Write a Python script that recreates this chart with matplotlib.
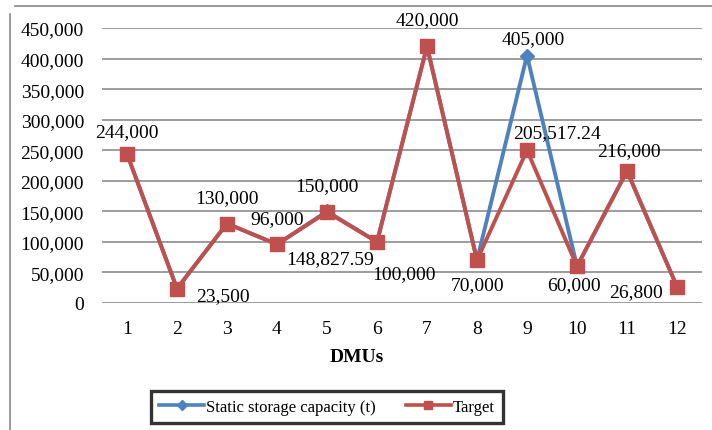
import matplotlib.pyplot as plt
from matplotlib.lines import Line2D
from matplotlib.ticker import FuncFormatter

# data
dmus = list(range(1, 13))
static_capacity = [244000, 23500, 130000, 96000, 150000, 100000,
                   420000, 70000, 405000, 60000, 216000, 26800]
target = [244000, 23500, 130000, 96000, 148827.59, 100000,
          420000, 70000, 250000, 60000, 216000, 26800]

# labels as printed on the chart (x, y, text, pixel offset)
static_labels = [(1, 244000, "244,000", (0, 22)),
                 (2, 23500, "23,500", (46, -7)),
                 (3, 130000, "130,000", (0, 26)),
                 (4, 96000, "96,000", (0, 26)),
                 (5, 150000, "150,000", (0, 26)),
                 (6, 100000, "100,000", (27, -32)),
                 (7, 420000, "420,000", (0, 27)),
                 (8, 70000, "70,000", (1, -24)),
                 (9, 405000, "405,000", (6, 17)),
                 (10, 60000, "60,000", (-3, -18)),
                 (11, 216000, "216,000", (2, 20)),
                 (12, 26800, "26,800", (-41, -5))]
target_labels = [(5, 148827.59, "148,827.59", (3, -47)),
                 (9, 250000, "205,517.24", (30, 18))]

plt.rcParams['font.family'] = ['Liberation Serif', 'DejaVu Serif']
fs = 14

fig = plt.figure(figsize=(7.12, 4.31), dpi=100)
ax = fig.add_axes([102 / 712, 1 - 304 / 431, 600 / 712, 275 / 431])

blue = "#4F81BD"
red = "#C0504D"

ax.plot(dmus, static_capacity, color=blue, lw=2.8, marker="D", ms=7, zorder=3)
ax.plot(dmus, target, color=red, lw=2.8, marker="s", ms=9.5, zorder=4)

for x, y, s, off in static_labels + target_labels:
    ax.annotate(s, (x, y), xytext=off, textcoords="offset pixels",
                ha="center", va="center", fontsize=fs, zorder=5)

ax.set_xlim(0.5, 12.5)
ax.set_ylim(0, 450000)
ax.set_yticks(range(0, 450001, 50000))
ax.set_xticks(dmus)
ax.yaxis.set_major_formatter(FuncFormatter(lambda v, p: f"{int(v):,}"))
ax.tick_params(length=0, labelsize=fs)
ax.tick_params(axis="x", pad=12)
ax.tick_params(axis="y", pad=13)
ax.grid(axis="y", color="#8c8c8c", lw=1.2)
ax.set_axisbelow(True)
for sp in ax.spines.values():
    sp.set_visible(False)
ax.set_xlabel("DMUs", fontsize=fs, fontweight="bold")
ax.xaxis.set_label_coords((357 - 102) / 600, -45 / 275)

handles = [Line2D([], [], color=blue, lw=2.6, marker="D", ms=5),
           Line2D([], [], color=red, lw=2.6, marker="s", ms=6)]
leg = fig.legend(handles, ["Static storage capacity (t)", "Target"],
                 loc="center", bbox_to_anchor=(327 / 712, 1 - 408 / 431),
                 ncol=2, fontsize=12, frameon=True, fancybox=False,
                 handlelength=2.7, handletextpad=0.1, columnspacing=1.8,
                 borderpad=0.5, borderaxespad=0)
leg.get_frame().set_edgecolor("black")
leg.get_frame().set_linewidth(2.4)

# outer chart frame fragments
fig.add_artist(Line2D([15 / 712, 1], [1 - 7 / 431, 1 - 7 / 431],
                      color="#888888", lw=1.2))
fig.add_artist(Line2D([10 / 712, 10 / 712], [0, 1 - 15 / 431],
                      color="#888888", lw=1.2))

fig.savefig("out.png", dpi=100)
